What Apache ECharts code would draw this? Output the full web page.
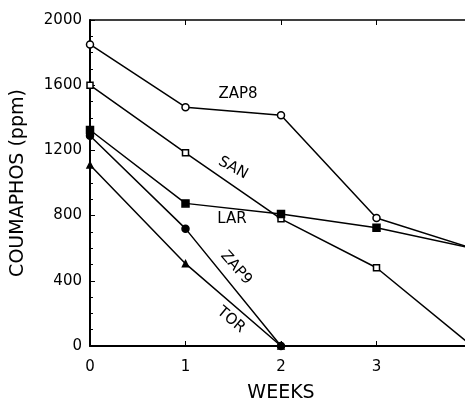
<!DOCTYPE html>
<html><head><meta charset="utf-8">
<script src="https://cdn.jsdelivr.net/npm/echarts@6/dist/echarts.min.js"></script>
<style>html,body{margin:0;padding:0;background:#fff}#c{width:465px;height:400px}</style>
</head><body><div id="c"></div>
<script>
var weeks = [0, 1, 2, 3, 4];
var zap8 = [1850, 1465, 1415, 785, 600];
var san = [1600, 1185, 780, 480, 0];
var lar = [1325, 875, 810, 725, 600];
var zap9 = [1290, 720, 0];
var tor = [1110, 505, 0];
var yTicks = [0, 400, 800, 1200, 1600, 2000];
var xTicks = [0, 1, 2, 3];

function pts(vals){ return vals.map(function(v,i){ return [weeks[i], v]; }); }
var FONT = 'DejaVu Sans';
function mk(name, vals, symbol, filled, size){
  return {
    name: name, type: 'line', data: pts(vals), symbol: symbol, symbolSize: size || 7,
    lineStyle: {color: '#000', width: 1.5},
    itemStyle: {color: filled ? '#000' : '#fff', borderColor: '#000', borderWidth: 1.5},
    animation: false, z: 3
  };
}
var chart = echarts.init(document.getElementById('c'));
chart.setOption({
  backgroundColor: '#fff',
  animation: false,
  grid: {left: 90, width: 382, top: 20, height: 326, containLabel: false, outerBoundsMode: 'none'},
  xAxis: [{
    type: 'value', min: 0, max: 4, interval: 1, position: 'bottom',
    name: 'WEEKS', nameLocation: 'middle', nameGap: 38,
    nameTextStyle: {fontFamily: FONT, fontSize: 19, color: '#000'},
    axisLine: {show: true, lineStyle: {color: '#000', width: 2}},
    axisTick: {show: true, inside: true, length: 5, lineStyle: {color: '#000'}},
    axisLabel: {fontFamily: FONT, fontSize: 15, color: '#000', margin: 14,
      formatter: function(v){ return xTicks.indexOf(v) >= 0 ? String(v) : ''; }},
    splitLine: {show: false}
  }, {
    type: 'value', min: 0, max: 4, interval: 1, position: 'top',
    axisLine: {show: true, lineStyle: {color: '#000', width: 1.5}},
    axisTick: {show: true, inside: true, length: 5, lineStyle: {color: '#000'}},
    axisLabel: {show: false}, splitLine: {show: false}
  }],
  yAxis: [{
    type: 'value', min: 0, max: 2000, interval: 400,
    name: 'COUMAPHOS (ppm)', nameLocation: 'middle', nameGap: 62,
    nameTextStyle: {fontFamily: FONT, fontSize: 19, color: '#000'},
    axisLine: {show: true, lineStyle: {color: '#000', width: 2}},
    axisTick: {show: true, inside: true, length: 5, lineStyle: {color: '#000'}},
    minorTick: {show: true, splitNumber: 4, length: 3, lineStyle: {color: '#000'}},
    axisLabel: {fontFamily: FONT, fontSize: 15, color: '#000', margin: 8,
      formatter: function(v){ return yTicks.indexOf(v) >= 0 ? String(v) : ''; }},
    splitLine: {show: false}
  }],
  series: [
    mk('ZAP8', zap8, 'circle', false, 7),
    mk('SAN', san, 'rect', false, 6),
    mk('LAR', lar, 'rect', true, 7),
    mk('ZAP9', zap9, 'circle', true, 7),
    mk('TOR', tor, 'triangle', true, 6)
  ],
  graphic: [
    {type: 'text', x: 238, y: 94, style: {text: 'ZAP8', font: '15px "DejaVu Sans"', fill: '#000', align: 'center', verticalAlign: 'middle'}},
    {type: 'text', x: 233, y: 168, rotation: -0.5, style: {text: 'SAN', font: '15px "DejaVu Sans"', fill: '#000', align: 'center', verticalAlign: 'middle'}},
    {type: 'text', x: 232, y: 219, style: {text: 'LAR', font: '15px "DejaVu Sans"', fill: '#000', align: 'center', verticalAlign: 'middle'}},
    {type: 'text', x: 236, y: 268, rotation: -0.85, style: {text: 'ZAP9', font: '15px "DejaVu Sans"', fill: '#000', align: 'center', verticalAlign: 'middle'}},
    {type: 'text', x: 231, y: 320, rotation: -0.7, style: {text: 'TOR', font: '15px "DejaVu Sans"', fill: '#000', align: 'center', verticalAlign: 'middle'}}
  ]
});
</script></body></html>
